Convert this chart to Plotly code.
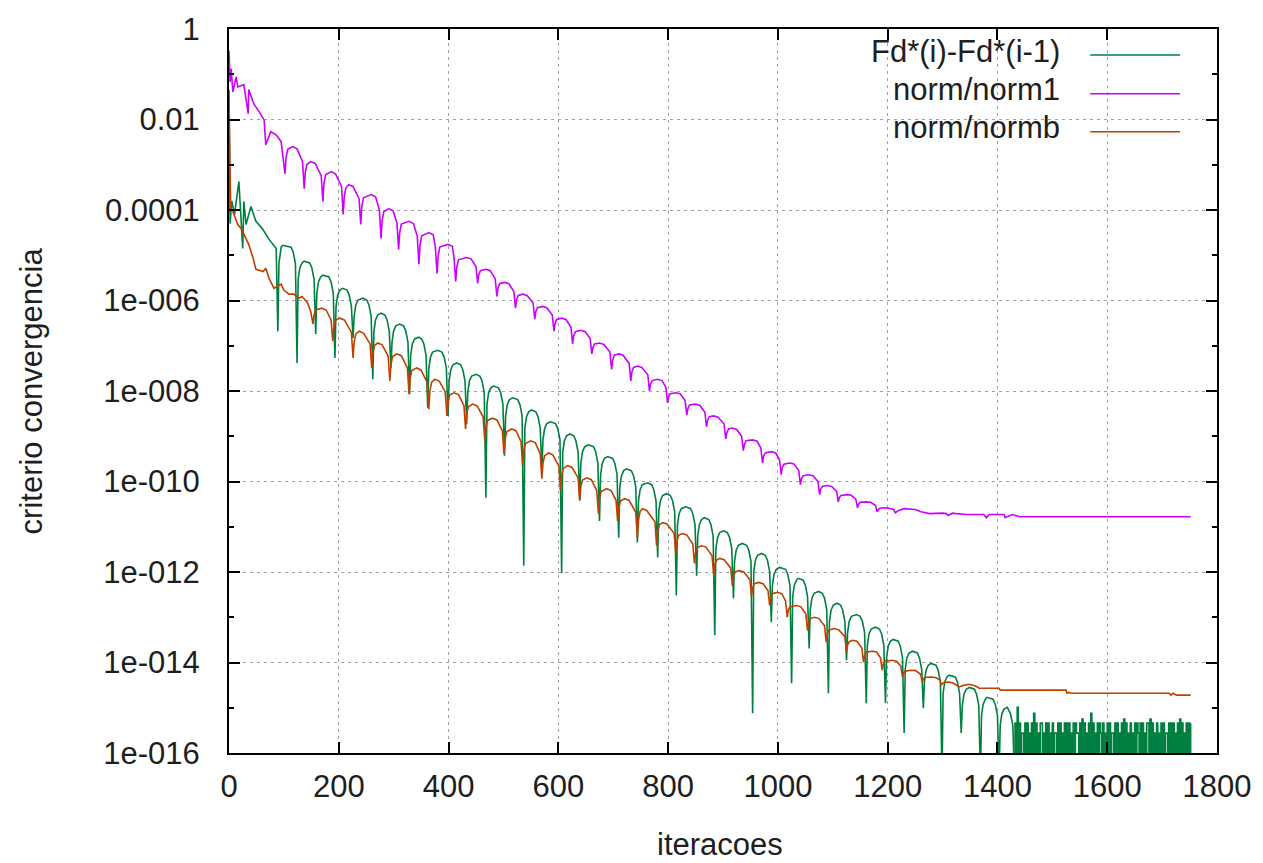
import plotly.graph_objects as go

# ---------------- data (iteration, log10 of criterion) ----------------
green_iter = [0, 2, 5, 10, 18, 22, 25, 27, 31, 40, 49, 60, 73, 86,
    89, 91, 93, 95, 98, 113, 117, 121,
    124, 126, 129, 133, 137, 147, 151, 155,
    158, 160, 163, 167, 171, 182, 186, 190,
    193, 195, 198, 202, 207, 215, 219, 223,
    226, 228, 231, 235, 244, 251, 255, 259,
    262, 264, 267, 271, 277, 284, 288, 292,
    295, 297, 300, 304, 311, 318, 322, 326,
    329, 331, 334, 338, 346, 351, 355, 359,
    362, 364, 367, 371, 380, 388, 392, 396,
    399, 401, 404, 408, 415, 422, 426, 430,
    433, 435, 438, 442, 450, 457, 461, 465,
    468, 470, 473, 477, 482, 491, 495, 499,
    502, 504, 507, 511, 517, 526, 530, 534,
    537, 539, 542, 546, 551, 559, 563, 567,
    570, 572, 575, 579, 586, 595, 599, 603,
    606, 608, 611, 615, 621, 628, 632, 636,
    639, 641, 644, 648, 655, 664, 668, 672,
    675, 677, 680, 684, 690, 699, 703, 707,
    710, 712, 715, 719, 724, 733, 737, 741,
    744, 746, 749, 753, 763, 770, 774, 778,
    781, 783, 786, 790, 797, 804, 808, 812,
    815, 817, 820, 824, 832, 841, 845, 849,
    852, 854, 857, 861, 866, 874, 878, 882,
    885, 887, 890, 894, 901, 908, 912, 916,
    919, 921, 924, 928, 935, 943, 947, 951,
    954, 956, 959, 963, 970, 977, 981, 985,
    988, 990, 993, 997, 1003, 1014, 1018, 1022,
    1025, 1027, 1030, 1034, 1037, 1046, 1050, 1054,
    1057, 1059, 1062, 1066, 1074, 1081, 1085, 1089,
    1092, 1094, 1097, 1101, 1108, 1114, 1118, 1122,
    1125, 1127, 1130, 1134, 1143, 1150, 1154, 1158,
    1161, 1163, 1166, 1170, 1178, 1185, 1189, 1193,
    1196, 1198, 1201, 1205, 1210, 1219, 1223, 1227,
    1230, 1232, 1235, 1239, 1245, 1254, 1258, 1262,
    1265, 1267, 1270, 1274, 1279, 1288, 1292, 1296,
    1299, 1301, 1304, 1308, 1312, 1323, 1327, 1331,
    1334, 1336, 1339, 1343, 1349, 1358, 1362, 1366,
    1369, 1371, 1374, 1378, 1381, 1392, 1396, 1400,
    1403, 1405, 1408, 1412, 1418, 1420, 1424, 1428,
    1431]
green_log = [-1.34, -4.30, -3.80, -4.10, -3.37, -4.30, -4.85, -3.81, -4.32, -3.92, -4.25, -4.40, -4.65, -4.85,
    -6.68, -5.18, -4.93, -4.82, -4.78, -4.82, -4.93, -5.18,
    -7.38, -5.53, -5.28, -5.17, -5.13, -5.17, -5.28, -5.53,
    -6.74, -5.84, -5.59, -5.48, -5.44, -5.48, -5.59, -5.84,
    -7.27, -6.13, -5.88, -5.77, -5.73, -5.77, -5.88, -6.13,
    -6.83, -6.35, -6.10, -5.99, -5.95, -5.99, -6.10, -6.35,
    -7.74, -6.68, -6.43, -6.32, -6.28, -6.32, -6.43, -6.68,
    -7.49, -6.92, -6.67, -6.56, -6.52, -6.56, -6.67, -6.92,
    -8.07, -7.21, -6.96, -6.85, -6.81, -6.85, -6.96, -7.21,
    -8.37, -7.50, -7.25, -7.14, -7.10, -7.14, -7.25, -7.50,
    -8.55, -7.78, -7.53, -7.42, -7.38, -7.42, -7.53, -7.78,
    -8.73, -8.03, -7.78, -7.67, -7.63, -7.67, -7.78, -8.03,
    -10.36, -8.29, -8.04, -7.93, -7.89, -7.93, -8.04, -8.29,
    -9.43, -8.55, -8.30, -8.19, -8.15, -8.19, -8.30, -8.55,
    -11.86, -8.82, -8.57, -8.46, -8.42, -8.46, -8.57, -8.82,
    -9.76, -9.08, -8.83, -8.72, -8.68, -8.72, -8.83, -9.08,
    -12.03, -9.35, -9.10, -8.99, -8.95, -8.99, -9.10, -9.35,
    -10.42, -9.59, -9.34, -9.23, -9.19, -9.23, -9.34, -9.59,
    -10.87, -9.85, -9.60, -9.49, -9.45, -9.49, -9.60, -9.85,
    -11.24, -10.12, -9.87, -9.76, -9.72, -9.76, -9.87, -10.12,
    -11.35, -10.43, -10.18, -10.07, -10.03, -10.07, -10.18, -10.43,
    -11.68, -10.67, -10.42, -10.31, -10.27, -10.31, -10.42, -10.67,
    -12.52, -10.96, -10.71, -10.60, -10.56, -10.60, -10.71, -10.96,
    -12.08, -11.20, -10.95, -10.84, -10.80, -10.84, -10.95, -11.20,
    -13.40, -11.49, -11.24, -11.13, -11.09, -11.13, -11.24, -11.49,
    -12.58, -11.77, -11.52, -11.41, -11.37, -11.41, -11.52, -11.77,
    -15.12, -11.99, -11.74, -11.63, -11.59, -11.63, -11.74, -11.99,
    -13.11, -12.30, -12.05, -11.94, -11.90, -11.94, -12.05, -12.30,
    -14.46, -12.54, -12.29, -12.18, -12.14, -12.18, -12.29, -12.54,
    -13.69, -12.83, -12.58, -12.47, -12.43, -12.47, -12.58, -12.83,
    -14.68, -13.09, -12.84, -12.73, -12.69, -12.73, -12.84, -13.09,
    -13.95, -13.34, -13.09, -12.98, -12.94, -12.98, -13.09, -13.34,
    -14.90, -13.62, -13.37, -13.26, -13.22, -13.26, -13.37, -13.62,
    -14.90, -13.89, -13.64, -13.53, -13.49, -13.53, -13.64, -13.89,
    -15.56, -14.15, -13.90, -13.79, -13.75, -13.79, -13.90, -14.15,
    -15.01, -14.42, -14.17, -14.06, -14.02, -14.06, -14.17, -14.42,
    -16.50, -14.68, -14.43, -14.32, -14.28, -14.32, -14.43, -14.68,
    -15.56, -14.95, -14.70, -14.59, -14.55, -14.59, -14.70, -14.95,
    -16.50, -15.17, -14.92, -14.81, -14.77, -14.81, -14.92, -15.17,
    -16.50, -15.39, -15.14, -15.03, -14.99, -15.03, -15.14, -15.39,
    -16.50]
# round-off noise tail of the green series: one value every 2 iterations from 1432
green_tail_start = 1432
green_tail_step = 2
green_tail_log = [
    -15.34, -16.5, -14.99, -16.5, -15.34, -16.5, -15.56, -15.56, -16.5, -15.34, -16.5, -15.34, -16.5, -15.56, -16.5, -15.34,
    -16.5, -15.12, -16.5, -15.34, -16.5, -15.56, -16.5, -15.34, -15.34, -16.5, -15.56, -16.5, -15.34, -16.5, -15.34, -16.5,
    -15.56, -16.5, -15.34, -16.5, -15.56, -15.56, -16.5, -15.34, -16.5, -15.34, -16.5, -15.56, -16.5, -15.34, -16.5, -15.34,
    -16.5, -15.34, -16.5, -15.56, -16.5, -15.34, -16.5, -15.34, -15.56, -15.56, -16.5, -15.34, -16.5, -15.25, -16.5, -15.34,
    -16.5, -15.56, -16.5, -15.34, -16.5, -15.12, -16.5, -15.34, -16.5, -15.56, -16.5, -15.34, -16.5, -15.34, -15.56, -16.5,
    -15.34, -16.5, -15.56, -16.5, -15.34, -16.5, -15.34, -16.5, -15.56, -15.56, -16.5, -15.34, -16.5, -15.34, -16.5, -15.56,
    -16.5, -15.34, -16.5, -15.25, -16.5, -15.34, -16.5, -15.56, -16.5, -15.34, -16.5, -15.56, -16.5, -15.34, -16.5, -15.34,
    -15.56, -16.5, -15.34, -16.5, -15.34, -16.5, -15.56, -16.5, -15.34, -15.34, -16.5, -15.25, -16.5, -15.34, -16.5, -15.56,
    -16.5, -15.34, -16.5, -15.56, -16.5, -15.34, -16.5, -15.34, -16.5, -15.56, -15.56, -16.5, -15.34, -16.5, -15.34, -16.5,
    -15.34, -16.5, -15.56, -16.5, -15.34, -16.5, -15.25, -16.5, -15.34, -16.5, -15.56, -16.5, -15.34, -16.5, -15.34, -16.5,
    -15.34]

purple_iter = [0, 2, 4, 7, 13, 16, 27, 35, 36, 45, 55, 64, 67, 76, 86, 95,
    102, 104, 107, 116, 124, 134,
    137, 139, 142, 149, 157, 168,
    171, 173, 176, 186, 194, 205,
    208, 210, 213, 218, 226, 237,
    240, 242, 245, 259, 267, 274,
    277, 279, 282, 291, 299, 306,
    309, 311, 314, 328, 336, 343,
    346, 348, 351, 364, 372, 376,
    379, 381, 384, 399, 407, 410,
    413, 415, 418, 433, 441, 450,
    453, 455, 458, 468, 476, 485,
    488, 490, 493, 502, 510, 519,
    522, 524, 527, 535, 543, 554,
    557, 559, 562, 571, 579, 589,
    592, 594, 597, 606, 614, 623,
    626, 628, 631, 641, 649, 658,
    661, 663, 666, 675, 683, 694,
    697, 699, 702, 710, 718, 729,
    732, 734, 737, 744, 752, 763,
    766, 768, 771, 781, 789, 796,
    799, 801, 804, 814, 822, 831,
    834, 836, 839, 850, 858, 867,
    870, 872, 875, 883, 891, 902,
    905, 907, 910, 917, 925, 934,
    937, 939, 942, 954, 962, 969,
    972, 974, 977, 988, 996, 1003,
    1006, 1008, 1011, 1021, 1029, 1038,
    1041, 1043, 1046, 1056, 1064, 1073,
    1076, 1078, 1081, 1090, 1098, 1107,
    1110, 1112, 1115, 1125, 1133, 1142,
    1145, 1147, 1150, 1161, 1169, 1178,
    1181, 1183, 1186, 1194, 1202, 1211,
    1214, 1220, 1230, 1250, 1261,
    1276, 1300, 1307, 1310, 1318,
    1325, 1343, 1375, 1380, 1385,
    1412, 1414, 1427, 1440, 1752]
purple_log = [-0.48, -1.17, -0.88, -1.39, -1.06, -1.28, -1.23, -1.87, -1.34, -1.65, -1.83, -2.01, -2.56, -2.27, -2.34, -2.49,
    -3.20, -2.84, -2.66, -2.60, -2.65, -2.93,
    -3.53, -3.17, -2.99, -2.93, -2.97, -3.24,
    -3.81, -3.41, -3.22, -3.15, -3.20, -3.48,
    -4.10, -3.70, -3.51, -3.44, -3.48, -3.75,
    -4.32, -3.92, -3.73, -3.66, -3.71, -4.00,
    -4.63, -4.23, -4.04, -3.97, -4.02, -4.29,
    -4.87, -4.50, -4.31, -4.25, -4.30, -4.58,
    -5.20, -4.78, -4.57, -4.50, -4.55, -4.82,
    -5.40, -5.02, -4.82, -4.76, -4.80, -5.05,
    -5.58, -5.26, -5.10, -5.05, -5.08, -5.25,
    -5.62, -5.43, -5.34, -5.31, -5.34, -5.52,
    -5.91, -5.72, -5.63, -5.60, -5.63, -5.80,
    -6.17, -5.98, -5.89, -5.86, -5.89, -6.05,
    -6.41, -6.24, -6.16, -6.13, -6.16, -6.32,
    -6.68, -6.51, -6.42, -6.39, -6.42, -6.59,
    -6.96, -6.78, -6.69, -6.66, -6.69, -6.84,
    -7.18, -7.04, -6.96, -6.94, -6.97, -7.14,
    -7.52, -7.32, -7.21, -7.18, -7.21, -7.39,
    -7.78, -7.58, -7.48, -7.45, -7.48, -7.64,
    -8.00, -7.84, -7.77, -7.74, -7.77, -7.92,
    -8.26, -8.13, -8.06, -8.04, -8.06, -8.21,
    -8.53, -8.39, -8.31, -8.29, -8.32, -8.47,
    -8.79, -8.65, -8.57, -8.55, -8.58, -8.73,
    -9.06, -8.92, -8.84, -8.82, -8.85, -9.00,
    -9.32, -9.18, -9.10, -9.08, -9.11, -9.26,
    -9.59, -9.44, -9.37, -9.34, -9.37, -9.52,
    -9.85, -9.69, -9.62, -9.59, -9.61, -9.76,
    -10.07, -9.94, -9.87, -9.85, -9.87, -10.00,
    -10.29, -10.17, -10.11, -10.09, -10.11, -10.22,
    -10.45, -10.35, -10.31, -10.29, -10.30, -10.39,
    -10.58, -10.50, -10.46, -10.45, -10.46, -10.53,
    -10.67, -10.62, -10.59, -10.58, -10.59, -10.62,
    -10.69, -10.64, -10.60, -10.62, -10.67,
    -10.71, -10.70, -10.71, -10.75, -10.70,
    -10.71, -10.73, -10.73, -10.80, -10.73,
    -10.73, -10.80, -10.73, -10.78, -10.78]

orange_iter = [0, 3, 7, 16, 22, 27, 36, 44, 49, 62, 67, 73, 82, 95, 100, 109, 118, 127, 133, 143, 149,
    153, 155, 158, 169, 177, 186,
    189, 191, 194, 202, 210, 223,
    226, 228, 231, 237, 245, 257,
    260, 262, 265, 271, 279, 290,
    293, 295, 298, 306, 314, 325,
    328, 330, 333, 342, 350, 361,
    364, 366, 369, 375, 383, 394,
    397, 399, 402, 410, 418, 428,
    431, 433, 436, 444, 452, 463,
    466, 468, 471, 480, 488, 498,
    501, 503, 506, 515, 523, 532,
    535, 537, 540, 550, 558, 567,
    570, 572, 575, 582, 590, 601,
    604, 606, 609, 617, 625, 636,
    639, 641, 644, 652, 660, 670,
    673, 675, 678, 688, 696, 705,
    708, 710, 713, 721, 729, 741,
    744, 746, 749, 753, 761, 776,
    779, 781, 784, 790, 798, 811,
    814, 816, 819, 826, 834, 845,
    848, 850, 853, 861, 869, 880,
    883, 885, 888, 894, 902, 914,
    917, 919, 922, 930, 938, 949,
    952, 954, 957, 965, 973, 982,
    985, 987, 990, 999, 1007, 1014,
    1017, 1019, 1022, 1034, 1042, 1051,
    1054, 1056, 1059, 1067, 1075, 1085,
    1088, 1090, 1093, 1103, 1111, 1122,
    1125, 1127, 1130, 1136, 1144, 1153,
    1156, 1158, 1161, 1172, 1180, 1187,
    1190, 1192, 1195, 1208, 1216, 1224,
    1227, 1229, 1232, 1243, 1251, 1260,
    1263, 1265, 1268, 1279, 1287, 1295,
    1298, 1300, 1303, 1312, 1320, 1330,
    1340, 1349, 1360, 1367, 1403,
    1405, 1525, 1527, 1530, 1535,
    1713, 1716, 1720, 1726, 1752]
orange_log = [-1.55, -3.97, -4.03, -4.32, -4.41, -4.54, -4.76, -5.07, -5.31, -5.36, -5.29, -5.51, -5.73, -5.64, -5.77, -5.86, -5.86, -5.95, -5.91, -6.05, -6.25,
    -6.52, -6.31, -6.21, -6.17, -6.21, -6.43,
    -6.90, -6.59, -6.44, -6.39, -6.43, -6.70,
    -7.27, -6.92, -6.74, -6.68, -6.72, -6.96,
    -7.49, -7.16, -7.00, -6.94, -6.98, -7.23,
    -7.78, -7.42, -7.24, -7.18, -7.22, -7.49,
    -8.07, -7.72, -7.55, -7.49, -7.54, -7.81,
    -8.40, -8.00, -7.81, -7.74, -7.78, -8.02,
    -8.55, -8.24, -8.09, -8.04, -8.08, -8.32,
    -8.84, -8.51, -8.35, -8.29, -8.33, -8.57,
    -9.10, -8.80, -8.65, -8.60, -8.64, -8.88,
    -9.39, -9.06, -8.90, -8.84, -8.88, -9.12,
    -9.65, -9.32, -9.16, -9.10, -9.14, -9.39,
    -9.94, -9.60, -9.43, -9.37, -9.41, -9.66,
    -10.20, -9.87, -9.71, -9.65, -9.69, -9.92,
    -10.42, -10.12, -9.97, -9.92, -9.96, -10.20,
    -10.71, -10.38, -10.22, -10.16, -10.20, -10.41,
    -10.87, -10.58, -10.43, -10.38, -10.42, -10.68,
    -11.24, -10.86, -10.66, -10.60, -10.64, -10.89,
    -11.42, -11.11, -10.96, -10.91, -10.94, -11.15,
    -11.59, -11.33, -11.19, -11.15, -11.18, -11.38,
    -11.81, -11.58, -11.46, -11.42, -11.45, -11.64,
    -12.06, -11.84, -11.74, -11.70, -11.73, -11.91,
    -12.30, -12.10, -12.00, -11.97, -12.00, -12.17,
    -12.54, -12.35, -12.26, -12.23, -12.26, -12.41,
    -12.74, -12.57, -12.48, -12.45, -12.48, -12.64,
    -13.00, -12.84, -12.77, -12.74, -12.77, -12.93,
    -13.29, -13.12, -13.03, -13.00, -13.03, -13.19,
    -13.55, -13.37, -13.28, -13.25, -13.28, -13.43,
    -13.77, -13.61, -13.54, -13.51, -13.53, -13.68,
    -13.99, -13.85, -13.77, -13.75, -13.77, -13.90,
    -14.17, -14.04, -13.97, -13.95, -13.97, -14.08,
    -14.32, -14.23, -14.19, -14.17, -14.18, -14.26,
    -14.43, -14.36, -14.33, -14.32, -14.33, -14.38,
    -14.50, -14.46, -14.44, -14.43, -14.46, -14.54,
    -14.50, -14.48, -14.52, -14.57, -14.57,
    -14.61, -14.61, -14.68, -14.66, -14.68,
    -14.68, -14.72, -14.68, -14.72, -14.72]

series_names = ["Fd*(i)-Fd*(i-1)", "norm/norm1", "norm/normb"]
series_colors = ["#008040", "#cc00ff", "#c04000"]

x_ticks = [0, 200, 400, 600, 800, 1000, 1200, 1400, 1600, 1800]
y_major_exp = [0, -2, -4, -6, -8, -10, -12, -14, -16]
y_major_labels = ["1", "0.01", "0.0001", "1e-006", "1e-008", "1e-010", "1e-012", "1e-014", "1e-016"]
y_minor_exp = [-1, -3, -5, -7, -9, -11, -13, -15]

x_title = "iteracoes"
y_title = "criterio convergencia"

# ---------------- build ----------------
green_tail_x = [green_tail_start + green_tail_step * k for k in range(len(green_tail_log))]


def pow10(vals):
    return [10.0 ** v for v in vals]


FONT = "Liberation Sans, Arial, Helvetica, sans-serif"
FS = 31
TXT = "#1e1e1e"
LW = 1.6

fig = go.Figure()
fig.add_trace(go.Scatter(x=green_iter, y=pow10(green_log), mode="lines", name=series_names[0],
                         line=dict(color=series_colors[0], width=LW), showlegend=False, hoverinfo="skip"))
fig.add_trace(go.Scatter(x=[green_iter[-1]] + green_tail_x, y=pow10([green_log[-1]] + green_tail_log),
                         mode="lines", name=series_names[0],
                         line=dict(color=series_colors[0], width=LW, shape="hv"),
                         showlegend=False, hoverinfo="skip"))
fig.add_trace(go.Scatter(x=purple_iter, y=pow10(purple_log), mode="lines", name=series_names[1],
                         line=dict(color=series_colors[1], width=LW), showlegend=False, hoverinfo="skip"))
fig.add_trace(go.Scatter(x=orange_iter, y=pow10(orange_log), mode="lines", name=series_names[2],
                         line=dict(color=series_colors[2], width=LW), showlegend=False, hoverinfo="skip"))

grid = dict(showgrid=True, gridcolor="#a0a0a0", gridwidth=1, griddash="3px,4px")

fig.update_layout(
    width=1263, height=863,
    margin=dict(l=229, r=45, t=27, b=110),
    paper_bgcolor="white", plot_bgcolor="white",
    font=dict(family=FONT, size=FS, color=TXT),
    xaxis=dict(range=[0, 1800], tickmode="array", tickvals=x_ticks,
               ticktext=[str(v) for v in x_ticks],
               ticks="inside", ticklen=11, tickwidth=1.5, tickcolor="black",
               showline=True, linecolor="black", linewidth=2, mirror="ticks",
               zeroline=False, ticklabelstandoff=5,
               tickfont=dict(family=FONT, size=FS, color=TXT), **grid),
    yaxis=dict(type="log", range=[-16, 0], tickmode="array",
               tickvals=pow10(y_major_exp), ticktext=y_major_labels,
               ticks="inside", ticklen=11, tickwidth=1.5, tickcolor="black",
               minor=dict(tickmode="array", tickvals=pow10(y_minor_exp), ticks="inside",
                          ticklen=5, tickwidth=1.5, tickcolor="black", showgrid=False),
               showline=True, linecolor="black", linewidth=2, mirror="ticks",
               zeroline=False, ticklabelstandoff=21,
               tickfont=dict(family=FONT, size=FS, color=TXT), **grid),
)

# opaque key box (hides grid under the key)
fig.add_shape(type="rect", xref="paper", yref="paper", x0=0.547, x1=0.979, y0=0.833, y1=1.0,
              fillcolor="white", line=dict(width=0), layer="between")

key_rows = [0.964, 0.9105, 0.858]
for name, col, yy in zip(series_names, series_colors, key_rows):
    fig.add_annotation(xref="paper", yref="paper", x=0.843, y=yy + 0.0055, text=name, showarrow=False,
                       xanchor="right", yanchor="middle",
                       font=dict(family=FONT, size=FS, color=TXT))
    fig.add_shape(type="line", xref="paper", yref="paper", x0=0.8716, x1=0.9626, y0=yy, y1=yy,
                  line=dict(color=col, width=LW), layer="above")

fig.add_annotation(xref="paper", yref="paper", x=0.4965, y=-0.1267, text=x_title, showarrow=False,
                   xanchor="center", yanchor="middle", font=dict(family=FONT, size=FS, color=TXT))
fig.add_annotation(xref="paper", yref="paper", x=-0.2, y=0.5, text=y_title, showarrow=False,
                   textangle=-90, xanchor="center", yanchor="middle",
                   font=dict(family=FONT, size=FS, color=TXT))

fig.write_html("out.html")
